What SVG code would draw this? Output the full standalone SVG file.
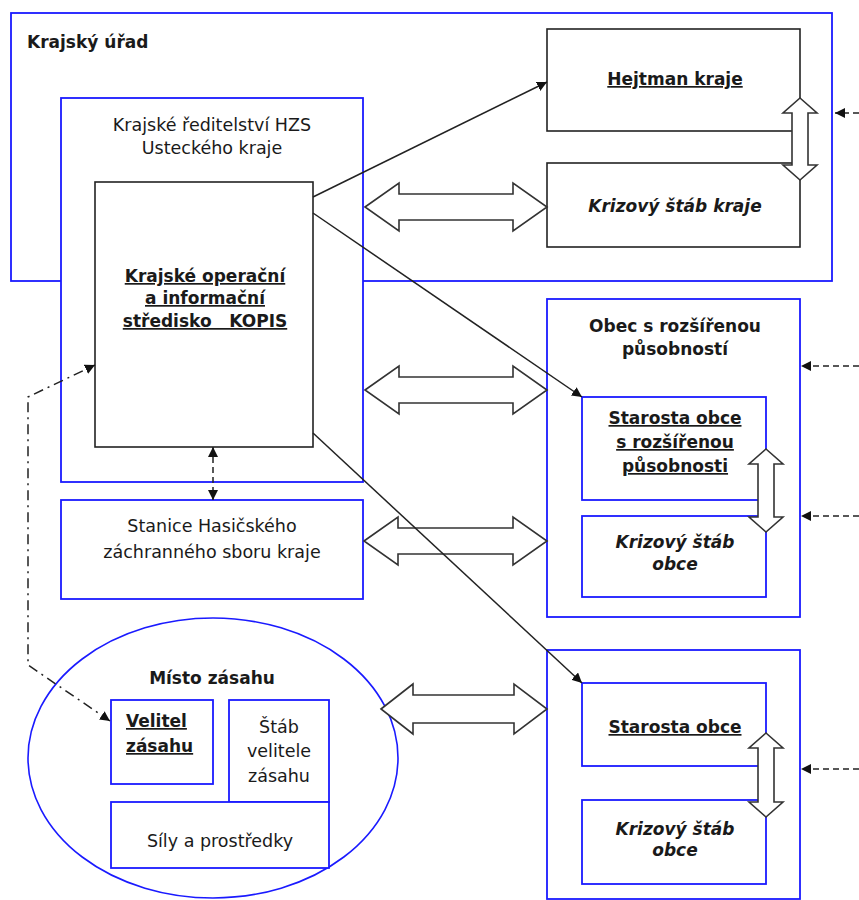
<svg xmlns="http://www.w3.org/2000/svg" width="859" height="900" viewBox="0 0 859 900">
<style>
.blue{fill:#fff;stroke:#1a1aff;stroke-width:1.8}
.blk{fill:#fff;stroke:#222;stroke-width:1.6}
.t{font-family:"DejaVu Sans",Verdana,sans-serif;fill:#1a1a1a;text-anchor:middle}
.r{font-size:17.5px}
.b{font-size:17px;font-weight:bold}
.i{font-style:italic}
.u{text-decoration:underline}
.dbl{fill:#fff;stroke:#333;stroke-width:1.6;stroke-linejoin:miter}
.ln{fill:none;stroke:#222;stroke-width:1.5}
.dash{fill:none;stroke:#222;stroke-width:1.5;stroke-dasharray:6,4}
.dd{fill:none;stroke:#222;stroke-width:1.5;stroke-dasharray:10,5,2,5}
</style>
<defs>
<marker id="ah" viewBox="0 0 10 10" refX="10" refY="5" markerWidth="10" markerHeight="10" markerUnits="userSpaceOnUse" orient="auto-start-reverse">
<path d="M0,0 L10,5 L0,10 Z" fill="#111" stroke="none"/>
</marker>
</defs>
<rect width="859" height="900" fill="#fff"/>

<g id="krajsky-urad">
<rect class="blue" x="11" y="13" width="821" height="268"/>
<text class="t b" x="27" y="48" style="text-anchor:start">Krajský úřad</text>
</g>

<g id="hzs">
<rect class="blue" x="61" y="98" width="302" height="384"/>
<text class="t r" x="212" y="131">Krajské ředitelství HZS</text>
<text class="t r" x="212" y="154">Usteckého kraje</text>
</g>

<g id="kopis">
<rect class="blk" x="95" y="182" width="218" height="265"/>
<text class="t b u" x="205" y="282">Krajské operační</text>
<text class="t b u" x="205" y="304">a informační</text>
<text class="t b u" x="205" y="327" style="white-space:pre">středisko   KOPIS</text>
</g>

<g id="hejtman">
<rect class="blk" x="547" y="29" width="253" height="102"/>
<text class="t b u" x="675" y="85">Hejtman kraje</text>
</g>

<g id="krizovy-stab-kraje">
<rect class="blk" x="547" y="163" width="253" height="84"/>
<text class="t b i" x="675" y="212">Krizový štáb kraje</text>
</g>

<g id="stanice">
<rect class="blue" x="61" y="500" width="302" height="99"/>
<text class="t r" x="212" y="532">Stanice Hasičského</text>
<text class="t r" x="212" y="558">záchranného sboru kraje</text>
</g>

<g id="orp">
<rect class="blue" x="547" y="299" width="253" height="318"/>
<text class="t b" x="675" y="332">Obec s rozšířenou</text>
<text class="t b" x="675" y="355">působností</text>
</g>

<g id="starosta-orp">
<rect class="blue" x="582" y="397" width="184" height="103"/>
<text class="t b u" x="675" y="424">Starosta obce</text>
<text class="t b u" x="675" y="448">s rozšířenou</text>
<text class="t b u" x="675" y="472">působnosti</text>
</g>

<g id="krizovy-stab-orp">
<rect class="blue" x="582" y="516" width="184" height="81"/>
<text class="t b i" x="675" y="548">Krizový štáb</text>
<text class="t b i" x="675" y="570">obce</text>
</g>

<g id="obec">
<rect class="blue" x="547" y="650" width="253" height="249"/>
</g>

<g id="starosta-obce">
<rect class="blue" x="582" y="683" width="184" height="83"/>
<text class="t b u" x="675" y="733">Starosta obce</text>
</g>

<g id="krizovy-stab-obce">
<rect class="blue" x="582" y="800" width="184" height="84"/>
<text class="t b i" x="675" y="835">Krizový štáb</text>
<text class="t b i" x="675" y="856">obce</text>
</g>

<g id="misto-zasahu">
<ellipse cx="213" cy="758" rx="185" ry="140" fill="#fff" stroke="#1a1aff" stroke-width="1.6"/>
<text class="t b" x="212" y="684">Místo zásahu</text>
</g>

<g id="velitel">
<rect class="blue" x="111" y="700" width="102" height="84"/>
<text class="t b u" x="126" y="727" style="text-anchor:start">Velitel</text>
<text class="t b u" x="126" y="752" style="text-anchor:start">zásahu</text>
</g>

<g id="stab-velitele">
<rect class="blue" x="229" y="700" width="100" height="102"/>
<text class="t r" x="279" y="733">Štáb</text>
<text class="t r" x="279" y="757">velitele</text>
<text class="t r" x="279" y="782">zásahu</text>
</g>

<g id="sily">
<rect class="blue" x="111" y="802" width="218" height="66"/>
<text class="t r" x="220" y="847">Síly a prostředky</text>
</g>

<g id="connectors">
<polygon class="dbl" points="365,207 399,183 399,194 513,194 513,183 547,207 513,231 513,220 399,220 399,231"/>
<polygon class="dbl" points="365,390 399,366 399,377 513,377 513,366 547,390 513,414 513,403 399,403 399,414"/>
<polygon class="dbl" points="364,541 398,517 398,528 513,528 513,517 547,541 513,565 513,554 398,554 398,565"/>
<polygon class="dbl" points="381,709 413,684 413,695 514,695 514,684 547,709 514,734 514,723 413,723 413,734"/>
<polygon class="dbl" points="800,98 817,113 808,113 808,165 817,165 800,180 783,165 792,165 792,113 783,113"/>
<polygon class="dbl" points="766,449 783,464 774,464 774,517 783,517 766,532 749,517 758,517 758,464 749,464"/>
<polygon class="dbl" points="766,733 783,748 774,748 774,802 783,802 766,817 749,802 758,802 758,748 749,748"/>
<line class="ln" x1="313" y1="197" x2="547" y2="82" marker-end="url(#ah)"/>
<line class="ln" x1="313" y1="213" x2="582" y2="397" marker-end="url(#ah)"/>
<line class="ln" x1="313" y1="433" x2="582" y2="683" marker-end="url(#ah)"/>
<line class="dash" x1="213" y1="447" x2="213" y2="500" stroke-dasharray="6,5" marker-start="url(#ah)" marker-end="url(#ah)"/>
<path class="dd" d="M110,721 L28,665 L28,397 L95,365" marker-start="url(#ah)" marker-end="url(#ah)"/>
<line class="dash" x1="859" y1="113" x2="835" y2="113" marker-end="url(#ah)"/>
<line class="dash" x1="859" y1="366" x2="801" y2="366" marker-end="url(#ah)"/>
<line class="dash" x1="859" y1="516" x2="801" y2="516" marker-end="url(#ah)"/>
<line class="dash" x1="859" y1="769" x2="801" y2="769" marker-end="url(#ah)"/>
</g>
</svg>
